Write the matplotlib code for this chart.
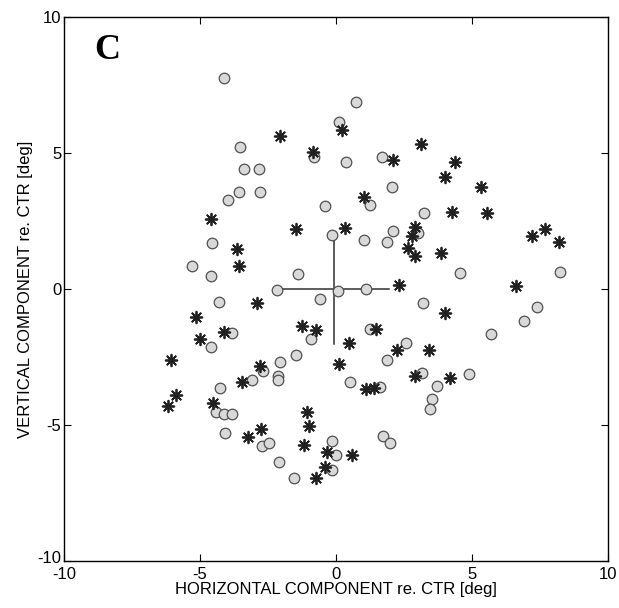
import numpy as np
import matplotlib
matplotlib.use("Agg")
import matplotlib.pyplot as plt
import matplotlib.transforms as mtransforms

# open circles (one condition)
circ_x = [-4.12, -3.53, -0.81, -3.38, -2.83, -3.57, -2.79, -3.99, -0.42, -4.56,
          -5.30, -4.58, -1.40, -0.15, 0.75, 0.11, 0.38, 1.68, 2.05, 1.26,
          3.23, 2.09, 1.04, 1.88, 3.01, 4.56, 8.23, 0.06, 1.10, -2.17,
          -4.30, -0.58, -3.84, -4.58, -0.92, -1.49, -2.05, -2.69, -2.14, -2.14,
          -3.10, -4.25, -4.40, -4.12, -3.84, -4.09, -2.73, -2.46, -2.11, -1.56,
          -0.14, -0.01, -0.14, 3.20, 7.40, 6.90, 5.69, 1.25, 2.56, 1.86,
          3.17, 4.90, 0.51, 1.62, 3.72, 3.51, 3.44, 1.72, 2.00]
circ_y = [7.74, 5.21, 4.84, 4.41, 4.41, 3.57, 3.57, 3.27, 3.05, 1.67,
          0.83, 0.46, 0.55, 1.97, 6.88, 6.13, 4.68, 4.86, 3.73, 3.09,
          2.80, 2.12, 1.81, 1.72, 2.06, 0.58, 0.64, -0.06, -0.02, -0.04,
          -0.47, -0.38, -1.62, -2.14, -1.85, -2.44, -2.69, -3.02, -3.19, -3.35,
          -3.35, -3.64, -4.54, -4.60, -4.58, -5.28, -5.78, -5.65, -6.37, -6.95,
          -5.59, -6.11, -6.67, -0.51, -0.68, -1.17, -1.67, -1.46, -1.99, -2.60,
          -3.10, -3.12, -3.41, -3.59, -3.56, -4.05, -4.42, -5.41, -5.65]

# asterisks (other condition)
star_x = [-2.07, -0.85, -4.58, -1.46, -3.65, -3.57, 0.21, 3.11, 2.09, 4.37,
          4.02, 5.32, 1.01, 4.25, 5.54, 0.33, 2.89, 2.80, 2.64, 2.89,
          3.84, 7.19, 7.68, 8.20, 2.32, 6.62, -2.89, -5.16, -4.12, -5.01,
          -1.25, -0.72, -6.06, -2.81, -3.47, 0.09, -5.88, -6.19, -4.52, -3.25,
          -2.75, -1.06, -0.98, -1.16, -0.35, -0.42, -0.72, 4.02, 1.47, 0.46,
          2.25, 3.41, 2.89, 4.19, 1.10, 1.41, 0.60]
star_y = [5.62, 5.02, 2.58, 2.21, 1.47, 0.85, 5.83, 5.33, 4.72, 4.68,
          4.12, 3.73, 3.38, 2.83, 2.80, 2.25, 2.28, 1.94, 1.51, 1.20,
          1.32, 1.94, 2.19, 1.72, 0.13, 0.09, -0.53, -1.05, -1.58, -1.83,
          -1.35, -1.52, -2.63, -2.85, -3.43, -2.77, -3.89, -4.30, -4.21, -5.43,
          -5.16, -4.54, -5.04, -5.72, -5.99, -6.54, -6.95, -0.88, -1.49, -1.99,
          -2.26, -2.23, -3.21, -3.27, -3.68, -3.64, -6.12]

# mean and spread cross
cross_center = (-0.07, 0.0)
cross_half = (2.03, 2.03)

plt.rcParams['font.family'] = ['Liberation Sans', 'DejaVu Sans']
plt.rcParams['axes.unicode_minus'] = False

fig = plt.figure(figsize=(6.19, 6.08), dpi=100)
ax = fig.add_axes([0.1034, 0.0773, 0.879, 0.895])

ax.scatter(circ_x, circ_y, s=58, marker='o', facecolor='#d9d9d9',
           edgecolor='#505050', linewidth=0.9, zorder=3)
ax.scatter(star_x, star_y, s=70, marker=(8, 2, 0), color='#202020',
           linewidth=1.3, zorder=4)

cx, cy = cross_center
hx, hy = cross_half
ax.plot([cx - hx, cx + hx], [cy, cy], color='#303030', lw=1.1, zorder=2)
ax.plot([cx, cx], [cy - hy, cy + hy], color='#303030', lw=1.1, zorder=2)

ax.text(-8.9, 8.75, 'C', fontsize=26, fontweight='bold',
        family=['Liberation Serif', 'DejaVu Serif'], va='center', ha='left')

ax.set_xlim(-10, 10)
ax.set_ylim(-10, 10)
ax.set_xticks([-10, -5, 0, 5, 10])
ax.set_yticks([-10, -5, 0, 5, 10])
ax.tick_params(direction='in', top=True, right=True, length=5, labelsize=12)
ax.tick_params(axis='x', pad=4)
ax.tick_params(axis='y', pad=2)
for sp in ax.spines.values():
    sp.set_linewidth(1.0)

# lift the lowest y label a little, as in the original
lbl = ax.get_yticklabels()[0]
lbl.set_transform(lbl.get_transform() +
                  mtransforms.ScaledTranslation(0, 3 / 72, fig.dpi_scale_trans))

ax.set_xlabel('HORIZONTAL COMPONENT re. CTR [deg]', fontsize=12, labelpad=0)
ax.set_ylabel('VERTICAL COMPONENT re. CTR [deg]', fontsize=12, labelpad=3)

fig.savefig('out.png', dpi=100)
